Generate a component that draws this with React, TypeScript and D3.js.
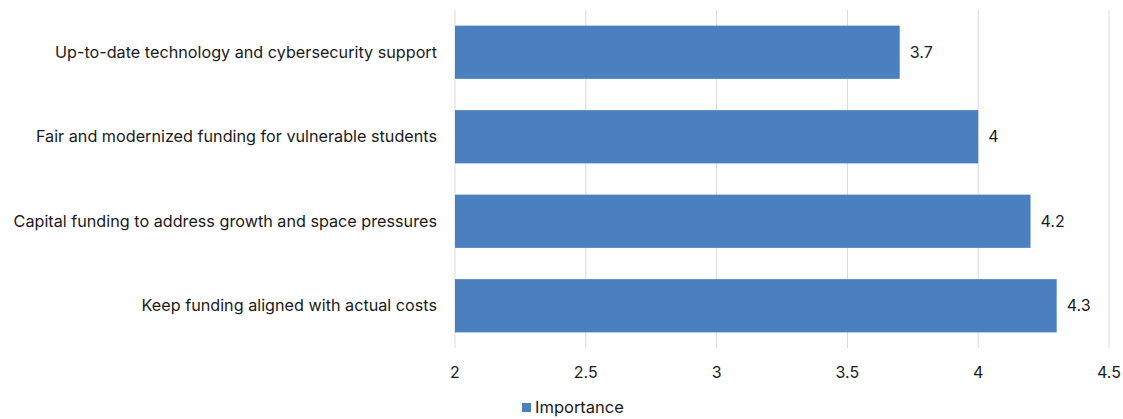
import React, { useEffect, useRef } from "react";
import * as d3 from "d3";

const categories = [
  "Up-to-date technology and cybersecurity support",
  "Fair and modernized funding for vulnerable students",
  "Capital funding to address growth and space pressures",
  "Keep funding aligned with actual costs",
];
const importance = [3.7, 4, 4.2, 4.3];
const xTicks = [2, 2.5, 3, 3.5, 4, 4.5];
const seriesName = "Importance";

export default function App() {
  const svgRef = useRef<SVGSVGElement | null>(null);

  useEffect(() => {
    if (!svgRef.current) return;
    const width = 1123, height = 419;
    const left = 455, right = 1109, top = 10, bottom = 348;
    const font = "Inter, 'Noto Sans', sans-serif";
    const barColor = "#4a80bf";

    const svg = d3.select(svgRef.current);
    svg.selectAll("*").remove();
    svg.attr("width", width).attr("height", height);

    const x = d3.scaleLinear().domain([2, 4.5]).range([left, right]);
    const y = d3.scaleBand()
      .domain(categories)
      .range([top, bottom])
      .paddingInner(0.37)
      .paddingOuter(0.185);

    // gridlines
    svg.append("g")
      .selectAll("line")
      .data(xTicks)
      .enter()
      .append("line")
      .attr("x1", d => x(d))
      .attr("x2", d => x(d))
      .attr("y1", top)
      .attr("y2", bottom)
      .attr("stroke", "#d9d9d9")
      .attr("stroke-width", 1);

    const data = categories.map((c, i) => ({ cat: c, value: importance[i] }));

    svg.append("g")
      .selectAll("rect")
      .data(data)
      .enter()
      .append("rect")
      .attr("x", x(2))
      .attr("y", d => y(d.cat) as number)
      .attr("width", d => x(d.value) - x(2))
      .attr("height", y.bandwidth())
      .attr("fill", barColor);

    // value labels
    svg.append("g")
      .selectAll("text")
      .data(data)
      .enter()
      .append("text")
      .attr("x", d => x(d.value) + 10)
      .attr("y", d => (y(d.cat) as number) + y.bandwidth() / 2)
      .attr("dy", "0.35em")
      .attr("font-family", font)
      .attr("font-size", "16px")
      .attr("fill", "#1a1a1a")
      .text(d => d.value.toString());

    // category labels
    svg.append("g")
      .selectAll("text")
      .data(categories)
      .enter()
      .append("text")
      .attr("x", left - 18)
      .attr("y", d => (y(d) as number) + y.bandwidth() / 2)
      .attr("dy", "0.35em")
      .attr("text-anchor", "end")
      .attr("font-family", font)
      .attr("font-size", "16.2px")
      .attr("fill", "#1a1a1a")
      .text(d => d);

    // x tick labels
    svg.append("g")
      .selectAll("text")
      .data(xTicks)
      .enter()
      .append("text")
      .attr("x", d => x(d))
      .attr("y", 372)
      .attr("dy", "0.35em")
      .attr("text-anchor", "middle")
      .attr("font-family", font)
      .attr("font-size", "16px")
      .attr("fill", "#1a1a1a")
      .text(d => d.toString());

    // legend
    const lg = svg.append("g");
    lg.append("rect")
      .attr("x", 522)
      .attr("y", 403)
      .attr("width", 9)
      .attr("height", 9)
      .attr("fill", barColor);
    lg.append("text")
      .attr("x", 535)
      .attr("y", 407)
      .attr("dy", "0.35em")
      .attr("font-family", font)
      .attr("font-size", "16.5px")
      .attr("fill", "#1a1a1a")
      .text(seriesName);
  }, []);

  return (
    <div style={{ position: "absolute", left: 0, top: 0 }}>
      <svg ref={svgRef} style={{ display: "block" }}></svg>
    </div>
  );
}
